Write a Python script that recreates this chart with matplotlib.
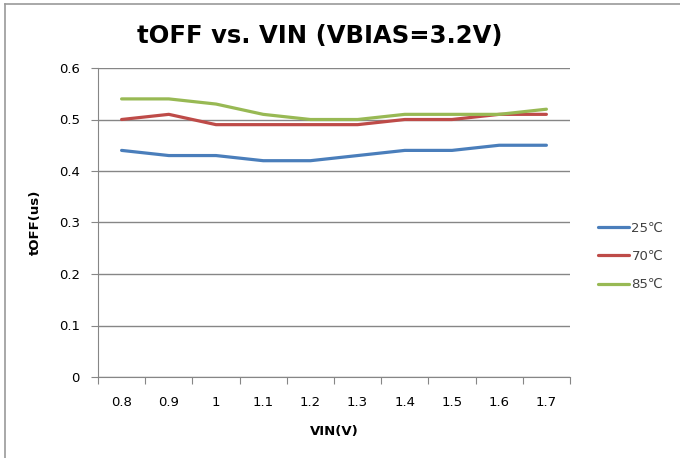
#!/usr/bin/env python3
"""tOFF vs. VIN line chart at three temperatures."""

import matplotlib

matplotlib.use("Agg")
import matplotlib.pyplot as plt
from matplotlib.lines import Line2D
import numpy as np

plt.rcParams["font.family"] = ["DejaVu Sans", "Noto Sans CJK SC"]

VIN = ["0.8", "0.9", "1", "1.1", "1.2", "1.3", "1.4", "1.5", "1.6", "1.7"]
TOFF_25C = [0.44, 0.43, 0.43, 0.42, 0.42, 0.43, 0.44, 0.44, 0.45, 0.45]
TOFF_70C = [0.50, 0.51, 0.49, 0.49, 0.49, 0.49, 0.50, 0.50, 0.51, 0.51]
TOFF_85C = [0.54, 0.54, 0.53, 0.51, 0.50, 0.50, 0.51, 0.51, 0.51, 0.52]

SERIES = [
    ("25℃", TOFF_25C, "#4A7EBB"),
    ("70℃", TOFF_70C, "#BE4B48"),
    ("85℃", TOFF_85C, "#98B954"),
]

W, H = 680, 458
fig = plt.figure(figsize=(W / 100, H / 100), dpi=100)
ax = fig.add_axes([98 / W, 1 - 377 / H, (570 - 98) / W, (377 - 68) / H])

x = np.arange(len(VIN))
for label, values, color in SERIES:
    ax.plot(x, values, color=color, linewidth=2.3, label=label, solid_capstyle="round")

ax.set_xlim(-0.5, len(VIN) - 0.5)
ax.set_ylim(0, 0.6)
ax.set_yticks(np.arange(0, 0.61, 0.1))
ax.set_yticklabels(["0", "0.1", "0.2", "0.3", "0.4", "0.5", "0.6"])
ax.set_xticks(np.arange(-0.5, len(VIN), 1.0))
ax.set_xticklabels([])
ax.set_xticks(x, minor=True)
ax.set_xticklabels(VIN, minor=True)
ax.tick_params(axis="x", which="major", length=5, color="#868686", direction="out")
ax.tick_params(axis="x", which="minor", length=0, pad=14, labelsize=9.5)
ax.tick_params(axis="y", length=5, color="#868686", labelsize=9.5, pad=8)

ax.grid(axis="y", color="#868686", linewidth=1.0)
ax.set_axisbelow(True)
for side in ("top", "right"):
    ax.spines[side].set_visible(False)
for side in ("left", "bottom"):
    ax.spines[side].set_color("#868686")

ax.set_xlabel("VIN(V)", fontsize=9.5, fontweight="bold", labelpad=11)
ax.set_ylabel("tOFF(us)", fontsize=9.5, fontweight="bold", labelpad=12)
fig.text(320 / W, 1 - 36 / H, "tOFF vs. VIN (VBIAS=3.2V)", ha="center", va="center",
         fontsize=17.5, fontweight="bold")

ax.legend(loc="center left", bbox_to_anchor=(1.035, 0.39), frameon=False,
          fontsize=9.5, handlelength=2.3, labelspacing=1.15, handletextpad=0.2,
          labelcolor="#404040")

# chart frame: only top and left edges show in the reference
fig.add_artist(Line2D([5 / W, 5 / W], [0, 1 - 4 / H], transform=fig.transFigure,
                      color="#9a9a9a", linewidth=1.2))
fig.add_artist(Line2D([5 / W, 1], [1 - 4 / H, 1 - 4 / H], transform=fig.transFigure,
                      color="#9a9a9a", linewidth=1.2))

fig.savefig("out.png", dpi=100)
